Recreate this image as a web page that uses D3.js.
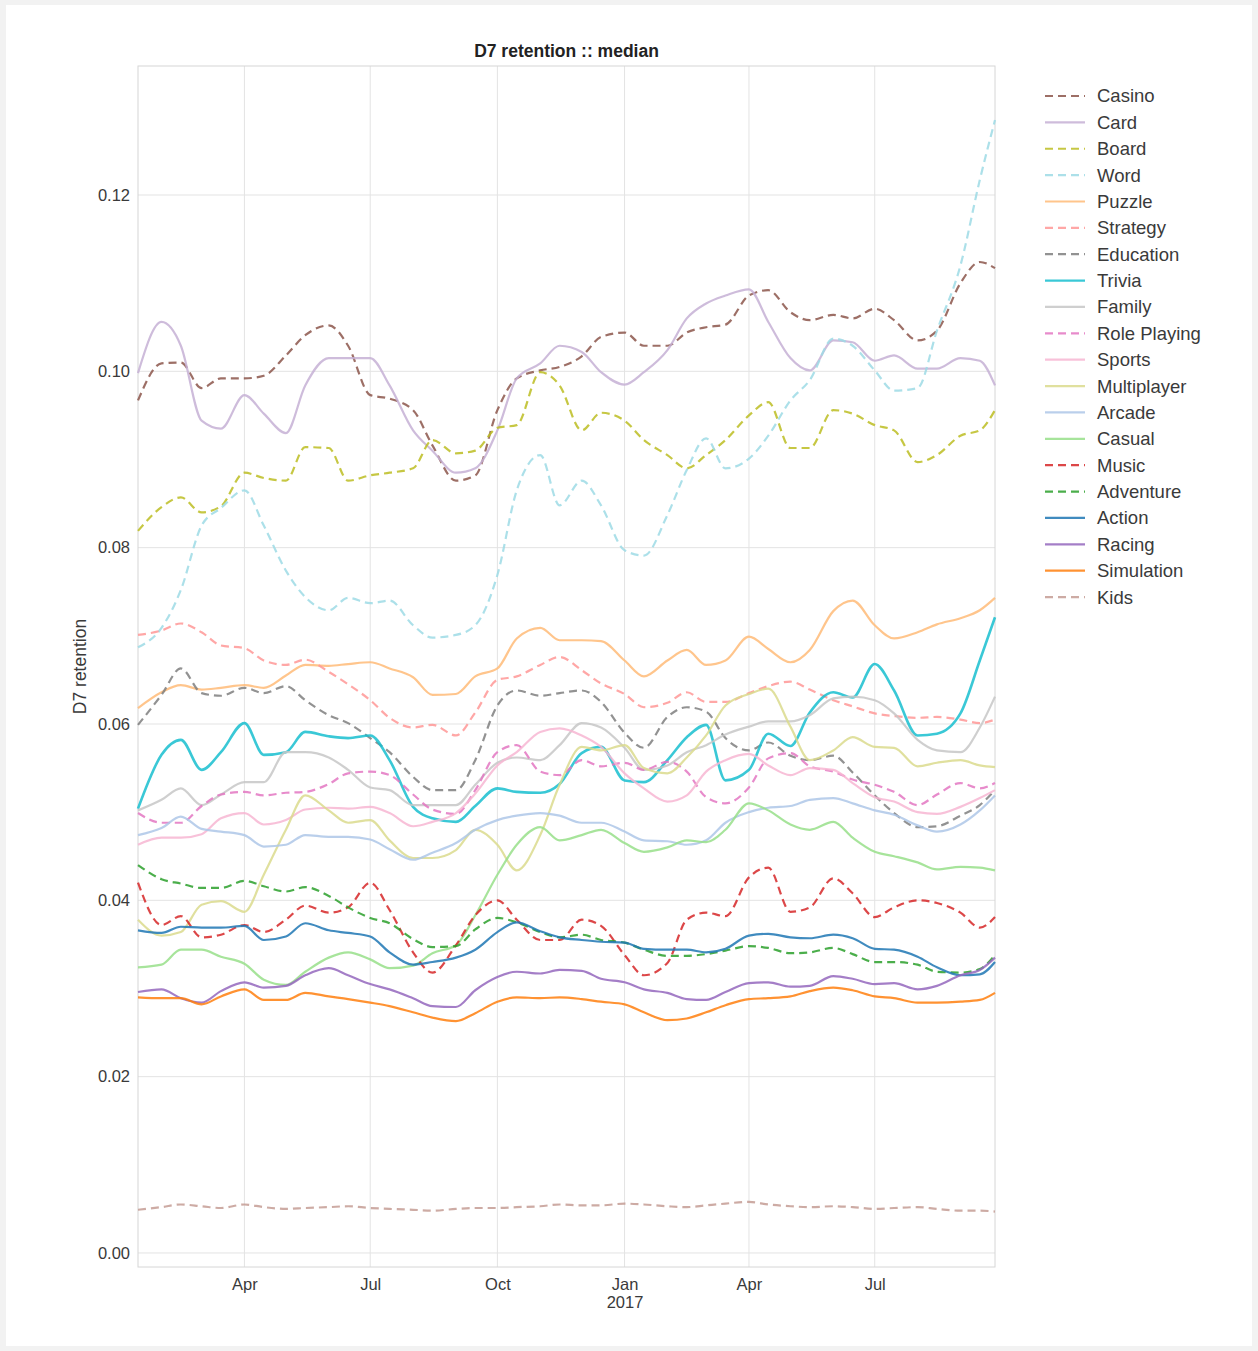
<!DOCTYPE html>
<html>
<head>
<meta charset="utf-8">
<script src="https://cdn.jsdelivr.net/npm/d3@7"></script>
<style>
  body { margin: 0; background: #f2f2f2; }
  text { font-family: "Liberation Sans", Arial, sans-serif; }
</style>
</head>
<body>
<div id="chart"></div>
<script>
// sample dates (half-monthly)
const dates = ["2016-01-15","2016-02-01","2016-02-15","2016-03-01","2016-03-15","2016-04-01","2016-04-15","2016-05-01","2016-05-15","2016-06-01","2016-06-15","2016-07-01","2016-07-15","2016-08-01","2016-08-15","2016-09-01","2016-09-15","2016-10-01","2016-10-15","2016-11-01","2016-11-15","2016-12-01","2016-12-15","2017-01-01","2017-01-15","2017-02-01","2017-02-15","2017-03-01","2017-03-15","2017-04-01","2017-04-15","2017-05-01","2017-05-15","2017-06-01","2017-06-15","2017-07-01","2017-07-15","2017-08-01","2017-08-15","2017-09-01","2017-09-15","2017-09-26"];

const casino = [0.0967,0.1009,0.1010,0.0981,0.0992,0.0992,0.0995,0.1018,0.1041,0.1052,0.1029,0.0973,0.0969,0.0956,0.0916,0.0876,0.0882,0.0956,0.0992,0.1001,0.1005,0.1017,0.1039,0.1044,0.1029,0.1029,0.1044,0.1050,0.1053,0.1086,0.1092,0.1067,0.1058,0.1064,0.1060,0.1071,0.1058,0.1035,0.1046,0.1100,0.1124,0.1117];
const card = [0.0998,0.1056,0.1029,0.0944,0.0935,0.0973,0.0952,0.0930,0.0984,0.1015,0.1015,0.1015,0.0984,0.0933,0.0910,0.0885,0.0890,0.0933,0.0992,0.1009,0.1029,0.1022,0.0999,0.0985,0.0999,0.1024,0.1060,0.1077,0.1086,0.1093,0.1056,0.1015,0.1001,0.1035,0.1033,0.1012,0.1018,0.1003,0.1003,0.1015,0.1012,0.0984];
const board = [0.0819,0.0846,0.0857,0.0840,0.0847,0.0885,0.0879,0.0876,0.0914,0.0913,0.0876,0.0882,0.0885,0.0890,0.0922,0.0907,0.0910,0.0936,0.0939,0.0999,0.0984,0.0933,0.0953,0.0944,0.0922,0.0905,0.0890,0.0905,0.0922,0.0950,0.0965,0.0913,0.0913,0.0956,0.0952,0.0939,0.0933,0.0897,0.0905,0.0927,0.0933,0.0956];
const word = [0.0687,0.0709,0.0752,0.0825,0.0845,0.0865,0.0825,0.0774,0.0744,0.0729,0.0743,0.0737,0.0740,0.0712,0.0698,0.0701,0.0712,0.0769,0.0865,0.0905,0.0848,0.0876,0.0848,0.0797,0.0791,0.0837,0.0888,0.0924,0.0890,0.0901,0.0927,0.0967,0.0990,0.1037,0.1029,0.1001,0.0978,0.0981,0.1046,0.1120,0.1217,0.1285];
const puzzle = [0.0618,0.0636,0.0644,0.0639,0.0641,0.0644,0.0641,0.0655,0.0667,0.0666,0.0668,0.0670,0.0663,0.0653,0.0633,0.0634,0.0654,0.0663,0.0697,0.0709,0.0695,0.0695,0.0694,0.0672,0.0654,0.0672,0.0684,0.0667,0.0672,0.0699,0.0685,0.0670,0.0684,0.0728,0.0740,0.0712,0.0697,0.0704,0.0713,0.0720,0.0729,0.0743];
const strategy = [0.0701,0.0706,0.0714,0.0704,0.0689,0.0686,0.0672,0.0667,0.0673,0.0659,0.0645,0.0627,0.0607,0.0596,0.0599,0.0587,0.0613,0.0650,0.0654,0.0667,0.0676,0.0661,0.0646,0.0634,0.0619,0.0624,0.0636,0.0625,0.0625,0.0635,0.0643,0.0648,0.0639,0.0627,0.0620,0.0612,0.0609,0.0607,0.0608,0.0605,0.0601,0.0605];
const education = [0.0599,0.0633,0.0663,0.0635,0.0632,0.0641,0.0635,0.0643,0.0627,0.0610,0.0601,0.0584,0.0568,0.0540,0.0525,0.0525,0.0559,0.0621,0.0638,0.0632,0.0635,0.0638,0.0625,0.0590,0.0573,0.0608,0.0619,0.0614,0.0584,0.0570,0.0579,0.0564,0.0559,0.0564,0.0545,0.0519,0.0499,0.0483,0.0484,0.0496,0.0508,0.0525];
const trivia = [0.0504,0.0565,0.0582,0.0548,0.0568,0.0601,0.0565,0.0568,0.0591,0.0586,0.0584,0.0587,0.0559,0.0506,0.0493,0.0489,0.0507,0.0527,0.0523,0.0522,0.0532,0.0567,0.0574,0.0536,0.0534,0.0559,0.0585,0.0599,0.0536,0.0548,0.0589,0.0575,0.0613,0.0636,0.0630,0.0668,0.0638,0.0587,0.0589,0.0612,0.0672,0.0721];
const family = [0.0502,0.0514,0.0527,0.0508,0.0520,0.0534,0.0534,0.0568,0.0568,0.0562,0.0548,0.0528,0.0525,0.0508,0.0508,0.0508,0.0531,0.0556,0.0562,0.0559,0.0576,0.0601,0.0596,0.0573,0.0548,0.0553,0.0568,0.0576,0.0588,0.0597,0.0603,0.0603,0.0610,0.0629,0.0631,0.0627,0.0612,0.0582,0.0570,0.0568,0.0596,0.0631];
const rolePlaying = [0.0499,0.0488,0.0488,0.0507,0.0520,0.0523,0.0519,0.0522,0.0523,0.0532,0.0544,0.0546,0.0542,0.0520,0.0503,0.0498,0.0525,0.0568,0.0576,0.0546,0.0542,0.0559,0.0552,0.0556,0.0548,0.0557,0.0546,0.0517,0.0510,0.0528,0.0561,0.0567,0.0552,0.0546,0.0537,0.0531,0.0523,0.0508,0.0520,0.0533,0.0527,0.0533];
const sports = [0.0463,0.0471,0.0471,0.0475,0.0493,0.0499,0.0486,0.0491,0.0503,0.0505,0.0504,0.0506,0.0499,0.0484,0.0489,0.0499,0.0521,0.0553,0.0568,0.0591,0.0595,0.0587,0.0574,0.0544,0.0527,0.0512,0.0519,0.0546,0.0559,0.0566,0.0553,0.0542,0.0550,0.0548,0.0533,0.0517,0.0512,0.0500,0.0498,0.0506,0.0516,0.0525];
const multiplayer = [0.0378,0.0360,0.0364,0.0395,0.0399,0.0387,0.0429,0.0480,0.0519,0.0502,0.0488,0.0491,0.0468,0.0448,0.0448,0.0457,0.0480,0.0463,0.0434,0.0474,0.0531,0.0574,0.0570,0.0576,0.0550,0.0544,0.0562,0.0587,0.0621,0.0634,0.0640,0.0597,0.0559,0.0570,0.0585,0.0574,0.0573,0.0552,0.0556,0.0559,0.0553,0.0551];
const arcade = [0.0474,0.0482,0.0495,0.0481,0.0478,0.0474,0.0461,0.0463,0.0474,0.0472,0.0472,0.0469,0.0458,0.0446,0.0454,0.0465,0.0480,0.0491,0.0496,0.0499,0.0496,0.0488,0.0488,0.0478,0.0468,0.0467,0.0463,0.0468,0.0488,0.0500,0.0505,0.0507,0.0514,0.0516,0.0510,0.0502,0.0497,0.0485,0.0478,0.0486,0.0502,0.0519];
const casual = [0.0324,0.0327,0.0344,0.0344,0.0336,0.0328,0.0310,0.0304,0.0319,0.0335,0.0341,0.0333,0.0323,0.0326,0.0340,0.0349,0.0383,0.0429,0.0463,0.0483,0.0468,0.0474,0.0480,0.0465,0.0455,0.0460,0.0468,0.0466,0.0480,0.0510,0.0502,0.0486,0.0480,0.0489,0.0471,0.0455,0.0450,0.0443,0.0435,0.0438,0.0437,0.0434];
const music = [0.0420,0.0372,0.0382,0.0358,0.0361,0.0372,0.0364,0.0378,0.0394,0.0386,0.0392,0.0420,0.0389,0.0341,0.0318,0.0349,0.0383,0.0400,0.0378,0.0355,0.0355,0.0378,0.0371,0.0338,0.0315,0.0329,0.0378,0.0386,0.0382,0.0426,0.0437,0.0387,0.0392,0.0425,0.0408,0.0381,0.0392,0.0400,0.0397,0.0386,0.0369,0.0381];
const adventure = [0.0440,0.0424,0.0419,0.0414,0.0414,0.0422,0.0416,0.0410,0.0415,0.0405,0.0392,0.0380,0.0374,0.0356,0.0347,0.0348,0.0367,0.0380,0.0375,0.0364,0.0358,0.0361,0.0355,0.0352,0.0344,0.0337,0.0337,0.0339,0.0343,0.0348,0.0346,0.0340,0.0341,0.0346,0.0339,0.0330,0.0330,0.0327,0.0319,0.0318,0.0322,0.0338];
const action = [0.0366,0.0363,0.0370,0.0369,0.0369,0.0371,0.0355,0.0359,0.0374,0.0366,0.0363,0.0359,0.0341,0.0327,0.0330,0.0335,0.0344,0.0364,0.0375,0.0365,0.0358,0.0355,0.0353,0.0352,0.0345,0.0344,0.0344,0.0341,0.0345,0.0360,0.0362,0.0358,0.0357,0.0361,0.0357,0.0345,0.0344,0.0336,0.0324,0.0315,0.0316,0.0330];
const racing = [0.0296,0.0299,0.0289,0.0284,0.0297,0.0307,0.0301,0.0303,0.0315,0.0323,0.0315,0.0305,0.0299,0.0289,0.0280,0.0279,0.0298,0.0313,0.0319,0.0317,0.0321,0.0320,0.0311,0.0307,0.0299,0.0295,0.0288,0.0287,0.0296,0.0306,0.0307,0.0302,0.0303,0.0314,0.0311,0.0305,0.0306,0.0299,0.0303,0.0315,0.0321,0.0335];
const simulation = [0.0290,0.0289,0.0289,0.0282,0.0291,0.0299,0.0287,0.0287,0.0295,0.0291,0.0288,0.0284,0.0280,0.0273,0.0267,0.0263,0.0272,0.0285,0.0290,0.0289,0.0290,0.0288,0.0285,0.0282,0.0273,0.0264,0.0266,0.0273,0.0281,0.0288,0.0289,0.0291,0.0297,0.0301,0.0298,0.0291,0.0289,0.0284,0.0284,0.0285,0.0287,0.0295];
const kids = [0.0049,0.0052,0.0055,0.0053,0.0051,0.0055,0.0052,0.0050,0.0051,0.0052,0.0053,0.0051,0.0050,0.0049,0.0048,0.0050,0.0051,0.0051,0.0052,0.0053,0.0055,0.0054,0.0054,0.0056,0.0055,0.0053,0.0052,0.0054,0.0056,0.0058,0.0055,0.0053,0.0052,0.0053,0.0052,0.0050,0.0051,0.0052,0.0050,0.0048,0.0048,0.0047];

const names = ["Casino","Card","Board","Word","Puzzle","Strategy","Education","Trivia","Family","Role Playing","Sports","Multiplayer","Arcade","Casual","Music","Adventure","Action","Racing","Simulation","Kids"];
const valueLists = [casino,card,board,word,puzzle,strategy,education,trivia,family,rolePlaying,sports,multiplayer,arcade,casual,music,adventure,action,racing,simulation,kids];

const yTicks = [0, 0.02, 0.04, 0.06, 0.08, 0.10, 0.12];
const xTickDates = ["2016-04-01","2016-07-01","2016-10-01","2017-01-01","2017-04-01","2017-07-01"];
const xTickLabels = ["Apr","Jul","Oct","Jan|2017","Apr","Jul"];

// styling
const colors = ["#8c564b","#c5b0d5","#bcbd22","#9edae5","#ffbb78","#ff9896","#7f7f7f","#17becf","#c7c7c7","#e377c2","#f7b6d2","#dbdb8d","#aec7e8","#98df8a","#d62728","#2ca02c","#1f77b4","#9467bd","#ff7f0e","#c49c94"];
const dashed = [true,false,true,true,false,true,true,false,false,true,false,false,false,false,true,true,false,false,false,true];

const W = 1258, H = 1351;
const margin = { top: 66, right: 263, bottom: 84, left: 138 };
const width = W - margin.left - margin.right,
      height = H - margin.top - margin.bottom;

const parse = d3.timeParse("%Y-%m-%d");
const dateObjs = dates.map(parse);

const svg = d3.select("#chart").append("svg")
  .attr("width", W).attr("height", H);

// outer frame
svg.append("rect").attr("width", W).attr("height", H).attr("fill", "#f2f2f2");
svg.append("rect").attr("x", 6).attr("y", 5).attr("width", W - 12).attr("height", H - 10).attr("fill", "#ffffff");

const g = svg.append("g").attr("transform", `translate(${margin.left},${margin.top})`);

const x = d3.scaleTime()
  .domain([parse("2016-01-15"), parse("2017-09-26")])
  .range([0, width]);

const y = d3.scaleLinear()
  .domain([-0.00159, 0.13463])
  .range([height, 0]);

// grid
g.append("g").selectAll("line")
  .data(yTicks).join("line")
  .attr("x1", 0).attr("x2", width)
  .attr("y1", d => y(d)).attr("y2", d => y(d))
  .attr("stroke", "#e3e3e3").attr("stroke-width", 1);

g.append("g").selectAll("line")
  .data(xTickDates.map(parse)).join("line")
  .attr("x1", d => x(d)).attr("x2", d => x(d))
  .attr("y1", 0).attr("y2", height)
  .attr("stroke", "#e3e3e3").attr("stroke-width", 1);

// y axis labels
const yAxis = g.append("g")
  .call(d3.axisLeft(y).tickValues(yTicks).tickFormat(d3.format(".2f")).tickSize(0).tickPadding(8));
yAxis.select(".domain").remove();
yAxis.selectAll("text").style("font-size", "16.5px").attr("fill", "#3a3a3a");

// x axis labels
const xAxis = g.append("g")
  .attr("transform", `translate(0,${height})`)
  .call(d3.axisBottom(x).tickValues(xTickDates.map(parse)).tickFormat("").tickSize(0));
xAxis.select(".domain").remove();
xAxis.selectAll(".tick").each(function (d, i) {
  const parts = xTickLabels[i].split("|");
  const t = d3.select(this).append("text")
    .attr("fill", "#3a3a3a").attr("text-anchor", "middle")
    .style("font-size", "16.5px");
  parts.forEach((p, k) => t.append("tspan").attr("x", 0).attr("y", 23 + k * 18).text(p));
});

// frame
g.append("rect").attr("width", width).attr("height", height)
  .attr("fill", "none").attr("stroke", "#d6d6d6").attr("stroke-width", 1);

// lines
const line = d3.line()
  .x((d, i) => x(dateObjs[i]))
  .y(d => y(d))
  .curve(d3.curveMonotoneX);

g.append("g").selectAll("path")
  .data(valueLists).join("path")
  .attr("d", d => line(d))
  .attr("fill", "none")
  .attr("stroke", (d, i) => colors[i])
  .attr("stroke-width", (d, i) => names[i] === "Trivia" ? 2.6 : 2.2)
  .attr("stroke-dasharray", (d, i) => dashed[i] ? "8,5" : null)
  .attr("stroke-opacity", 0.85);

// title
svg.append("text")
  .attr("x", margin.left + width / 2).attr("y", 57)
  .attr("text-anchor", "middle")
  .style("font-size", "17.5px").style("font-weight", "bold")
  .attr("fill", "#222")
  .text("D7 retention :: median");

// y label
svg.append("text")
  .attr("transform", `translate(86,${margin.top + height / 2}) rotate(-90)`)
  .attr("text-anchor", "middle")
  .style("font-size", "17.5px").attr("fill", "#3a3a3a")
  .text("D7 retention");

// legend
const legend = svg.append("g").attr("transform", "translate(1045,96)");
const row = legend.selectAll("g").data(names).join("g")
  .attr("transform", (d, i) => `translate(0,${i * 26.37})`);
row.append("line")
  .attr("x1", 0).attr("x2", 40)
  .attr("stroke", (d, i) => colors[i])
  .attr("stroke-width", 2.2)
  .attr("stroke-opacity", 0.85)
  .attr("stroke-dasharray", (d, i) => dashed[i] ? "8,5" : null);
row.append("text")
  .attr("x", 52).attr("dy", "0.35em")
  .style("font-size", "18.5px").attr("fill", "#3a3a3a")
  .text(d => d);
</script>
</body>
</html>
